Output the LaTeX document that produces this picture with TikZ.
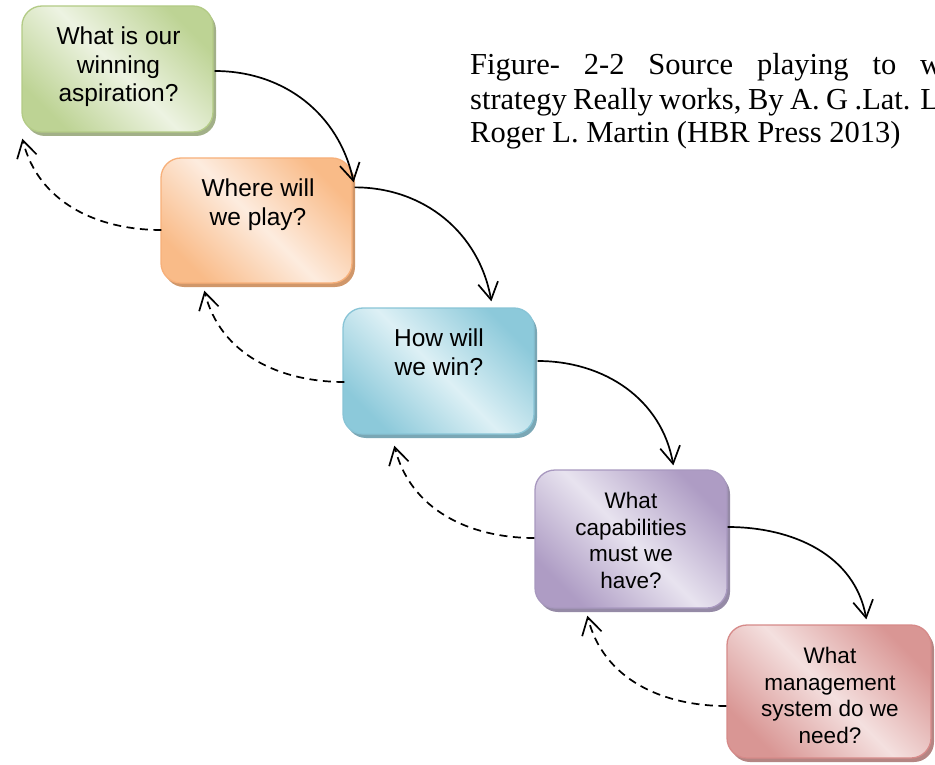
\documentclass[tikz,border=0pt]{standalone}
\usepackage{fontspec}
\setmainfont{Liberation Serif}
\newfontfamily\boxfont{Liberation Sans}
\usetikzlibrary{arrows.meta,calc,shadows}

% face colours: dark corners, light diagonal band, outline, extruded edge
\definecolor{grDark}{HTML}{BDD394}\definecolor{grLight}{HTML}{EDF3E2}
\definecolor{grLine}{HTML}{B3CB86}\definecolor{grShadow}{HTML}{A2B088}
\definecolor{orDark}{HTML}{F9BB88}\definecolor{orLight}{HTML}{FDECDF}
\definecolor{orLine}{HTML}{F7B07A}\definecolor{orShadow}{HTML}{D0976A}
\definecolor{blDark}{HTML}{8CC9DA}\definecolor{blLight}{HTML}{DDF0F5}
\definecolor{blLine}{HTML}{88C4D6}\definecolor{blShadow}{HTML}{7AA7B5}
\definecolor{puDark}{HTML}{AE9CC4}\definecolor{puLight}{HTML}{E8E3EF}
\definecolor{puLine}{HTML}{A898BF}\definecolor{puShadow}{HTML}{958AA6}
\definecolor{rdDark}{HTML}{D99694}\definecolor{rdLight}{HTML}{F4E0DF}
\definecolor{rdLine}{HTML}{D68A89}\definecolor{rdShadow}{HTML}{B58583}

\tikzset{
  stepbox/.style={draw=#1Line, line width=1.3pt, rounded corners=20pt,
    top color=#1Dark, bottom color=#1Dark, middle color=#1Light,
    shading angle=-45,
    general shadow={fill=#1Shadow, shadow xshift=3pt, shadow yshift=-4pt},
    inner sep=0pt},
  qtext/.style={font=\boxfont\fontsize{24.5}{28.5}\selectfont, align=center,
    inner sep=0pt, text=black},
  qsmall/.style={qtext, font=\boxfont\fontsize{22.5}{26.5}\selectfont},
  captext/.style={font=\fontsize{30.5}{34}\selectfont, inner sep=0pt, text=black},
  flow/.style={line width=1.7pt, -{Straight Barb[length=17pt,width=20pt]}},
  back/.style={flow, dash pattern=on 8pt off 5.5pt},
}

\begin{document}
\begin{tikzpicture}[x=1pt,y=1pt]
\useasboundingbox (0,0) rectangle (935,-765);
\clip (0,0) rectangle (935,-765);

% the five question boxes
\node[stepbox=gr, minimum width=191pt, minimum height=126pt] (b1) at (117.5,-69) {};
\node[stepbox=or, minimum width=191pt, minimum height=125pt] (b2) at (256.5,-220.5) {};
\node[stepbox=bl, minimum width=191pt, minimum height=126pt] (b3) at (438.5,-371) {};
\node[stepbox=pu, minimum width=192pt, minimum height=138pt] (b4) at (631,-539) {};
\node[stepbox=rd, minimum width=204pt, minimum height=133pt] (b5) at (829,-691.5) {};

% questions, set near the top of each box
\node[qtext, anchor=north] (t1) at (118.5,-27) {What is our\\winning\\aspiration?};
\node[qtext, anchor=north] (t2) at (258,-179) {Where will\\we play?};
\node[qtext, anchor=north] (t3) at (439,-329) {How will\\we win?};
\node[qsmall, anchor=north] (t4) at (631,-492) {What\\capabilities\\must we\\have?};
\node[qsmall, anchor=north] (t5) at (830,-647) {What\\management\\system do we\\need?};

% forward cascade
\draw[flow] ($(b1.east)+(1,-2)$) to[out=0,in=102] ($(b2.north east)+(1,-25)$);
\draw[flow] ($(b2.north east)+(2,-30)$) to[out=0,in=100] ($(b3.north west)+(149,6)$);
\draw[flow] ($(b3.east)+(3,10)$) to[out=0,in=100] ($(b4.north west)+(139,4)$);
\draw[flow] ($(b4.east)+(0,12)$) to[out=0,in=100] ($(b5.north west)+(140,5)$);

% feedback loops
\draw[back] ($(b2.west)+(1,-9.5)$) to[out=180,in=-76] ($(b1.south west)+(1,-6)$);
\draw[back] ($(b3.west)+(2,-11)$) to[out=180,in=-76] ($(b2.south west)+(44,-7)$);
\draw[back] ($(b4.west)+(0,1)$) to[out=180,in=-76] ($(b3.south west)+(52,-11)$);
\draw[back] ($(b5.west)+(0,-14.5)$) to[out=180,in=-76] ($(b4.south west)+(53,-7)$);

% source caption, justified lines running past the right edge
\node[captext, anchor=base west] (c1) at (470,-75)
  {\makebox[472pt][s]{Figure- 2-2 Source playing to w}};
\node[captext, anchor=base west] (c2) at (470,-110)
  {\makebox[484pt][s]{strategy Really works, By A. G .Lat. Lo}};
\node[captext, anchor=base west] (c3) at (470,-143)
  {Roger L. Martin (HBR Press 2013)};
\end{tikzpicture}
\end{document}
